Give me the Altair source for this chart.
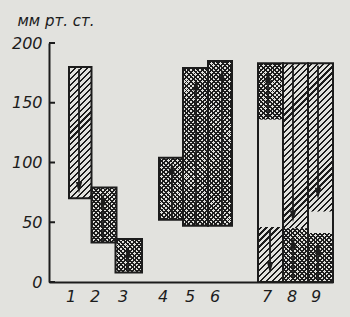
import math
import altair as alt
import pandas as pd

# ---------------- data ----------------
bar_labels = ["1", "2", "3", "4", "5", "6", "7", "8", "9"]
bar_x0 = [0.80, 1.70, 2.66, 4.40, 5.36, 6.36, 8.36, 9.36, 10.36]
bar_x1 = [1.70, 2.70, 3.72, 5.36, 6.36, 7.32, 9.36, 10.36, 11.36]
bar_low = [70, 33, 8, 52, 47, 47, 0, 0, 0]
bar_high = [180, 79, 36, 104, 179, 185, 183, 183, 183]
label_x = [0.88, 1.84, 2.96, 4.56, 5.64, 6.64, 8.72, 9.72, 10.68]

# textured segments inside the bars (bar number, low, high, texture)
seg_bar = [1, 2, 3, 4, 5, 6, 7, 7, 8, 8, 9, 9]
seg_low = [70, 33, 8, 52, 47, 47, 136, 0, 45, 0, 59, 0]
seg_high = [180, 79, 36, 104, 179, 185, 183, 46, 183, 45, 183, 41]
seg_fill = ["hatch", "cross", "cross", "cross", "cross", "cross",
            "cross", "hatch", "hatch", "cross", "hatch", "cross"]

# arrows (x position, tail value, head value)
arrow_x = [1.20, 2.16, 3.16, 4.92, 5.88, 6.92, 8.76, 8.84, 9.76, 9.76, 10.76, 10.76]
arrow_tail = [178, 34, 9, 53, 48, 48, 137, 44, 181, 2, 181, 2]
arrow_head = [79, 69, 25, 95, 165, 173, 172, 12, 55, 33, 74, 28]

y_ticks = [0, 50, 100, 150, 200]
y_title = "мм рт. ст."

# ---------------- layout / style ----------------
X_MAX = 11.36
Y_MAX = 200
W, H = 284, 239
PAD = {"left": 49, "top": 43, "right": 17, "bottom": 35}
INK = "#1c1c1c"
PAPER = "#e2e2de"
CLEAR = "rgba(0,0,0,0)"
FONT = "DejaVu Sans"
PX_X = W / X_MAX
PX_Y = H / Y_MAX

xs = alt.Scale(domain=[0, X_MAX], nice=False, zero=False)
ys = alt.Scale(domain=[0, Y_MAX], nice=False)
xaxis = alt.Axis(labels=False, ticks=False, grid=False, title=None,
                 domainColor=INK, domainWidth=2)
yaxis = alt.Axis(values=y_ticks, ticks=False, grid=False, labelPadding=7,
                 labelFont=FONT, labelFontSize=16, labelFontStyle="italic",
                 labelColor=INK, domainColor=INK, domainWidth=2,
                 title=y_title, titleAngle=0, titleAlign="left",
                 titleBaseline="middle", titleX=-32, titleY=-23,
                 titleFont=FONT, titleFontSize=15, titleFontStyle="italic",
                 titleFontWeight="normal", titleColor=INK)


def stripes(w, h, gx, gy, period, frac, direction, dark):
    """Linear gradient with hard stops that looks like diagonal hatching."""
    L = w + h
    k = L / (w * w + h * h)
    P = period * math.sqrt(2)
    if direction == "/":
        g0 = gx + gy
        coords = dict(x1=0, y1=0, x2=k * w, y2=k * h)
    else:
        g0 = gx - gy - h
        coords = dict(x1=0, y1=1, x2=k * w, y2=1 - k * h)
    pieces = []
    m = math.floor(g0 / P) - 1
    while m * P < g0 + L + P:
        a = m * P
        pieces.append((a, a + frac * P, dark))
        pieces.append((a + frac * P, a + P, CLEAR))
        m += 1
    stops = []
    for a, b, c in pieces:
        t0 = max(0.0, (a - g0) / L)
        t1 = min(1.0, (b - g0) / L)
        if t1 <= t0:
            continue
        stops.append({"offset": round(t0, 5), "color": c})
        stops.append({"offset": round(t1, 5), "color": c})
    g = {"gradient": "linear", "stops": stops}
    g.update({key: round(v, 5) for key, v in coords.items()})
    return g


def enc_rect(ch):
    return ch.encode(
        x=alt.X("x0:Q", scale=xs, axis=xaxis), x2="x1:Q",
        y=alt.Y("low:Q", scale=ys, axis=yaxis), y2="high:Q")


layers = []

# textures
for i in range(len(seg_bar)):
    b = seg_bar[i] - 1
    x0, x1 = bar_x0[b], bar_x1[b]
    lo, hi = seg_low[i], seg_high[i]
    df = pd.DataFrame({"x0": [x0], "x1": [x1], "low": [lo], "high": [hi]})
    w = (x1 - x0) * PX_X
    h = (hi - lo) * PX_Y
    gx = PAD["left"] + x0 * PX_X
    gy = PAD["top"] + (Y_MAX - hi) * PX_Y
    if seg_fill[i] == "hatch":
        specs = [(4.2, 0.36, "/")]
    else:
        specs = [(3.2, 0.42, "/"), (3.2, 0.42, "\\")]
    for period, frac, d in specs:
        grad = stripes(w, h, gx, gy, period, frac, d, INK)
        layers.append(enc_rect(alt.Chart(df).mark_rect(fill=grad, strokeWidth=0)))

# arrows
arrows = pd.DataFrame({
    "ax": arrow_x, "tail": arrow_tail, "head": arrow_head,
    "dir": ["up" if hd > tl else "down" for hd, tl in zip(arrow_head, arrow_tail)],
})
layers.append(alt.Chart(arrows).mark_rule(color=INK, strokeWidth=1.8).encode(
    x=alt.X("ax:Q", scale=xs, axis=xaxis),
    y=alt.Y("tail:Q", scale=ys, axis=yaxis), y2="head:Q"))
layers.append(alt.Chart(arrows).mark_point(filled=True, color=INK, opacity=1,
                                           size=130, strokeWidth=0).encode(
    x=alt.X("ax:Q", scale=xs, axis=xaxis),
    y=alt.Y("head:Q", scale=ys, axis=yaxis),
    shape=alt.Shape("dir:N", legend=None, scale=alt.Scale(
        domain=["up", "down"],
        range=["M-0.55,1L0.55,1L0,-1Z", "M-0.55,-1L0.55,-1L0,1Z"]))))

# bar outlines
bars = pd.DataFrame({"x0": bar_x0, "x1": bar_x1, "low": bar_low,
                     "high": bar_high, "label": bar_labels})
layers.append(enc_rect(alt.Chart(bars).mark_rect(filled=False, color=INK,
                                                 strokeWidth=2)))

# inward y ticks
ticks = pd.DataFrame({"tick": y_ticks})
layers.append(alt.Chart(ticks).mark_rule(color=INK, strokeWidth=2).encode(
    y=alt.Y("tick:Q", scale=ys, axis=yaxis),
    x=alt.value(0), x2=alt.value(6)))

# category labels under the bars
labels = pd.DataFrame({"lx": label_x, "label": bar_labels})
layers.append(alt.Chart(labels).mark_text(
    font=FONT, fontSize=16, fontStyle="italic", color=INK,
    baseline="middle", align="center", dy=15).encode(
    x=alt.X("lx:Q", scale=xs, axis=xaxis),
    y=alt.value(H), text="label:N"))

chart = alt.layer(*layers).properties(
    width=W, height=H, padding=PAD,
    autosize=alt.AutoSizeParams(type="none"),
).configure(background=PAPER).configure_view(stroke=None)

chart.save("out.html", embed_options={"renderer": "svg", "actions": False})
